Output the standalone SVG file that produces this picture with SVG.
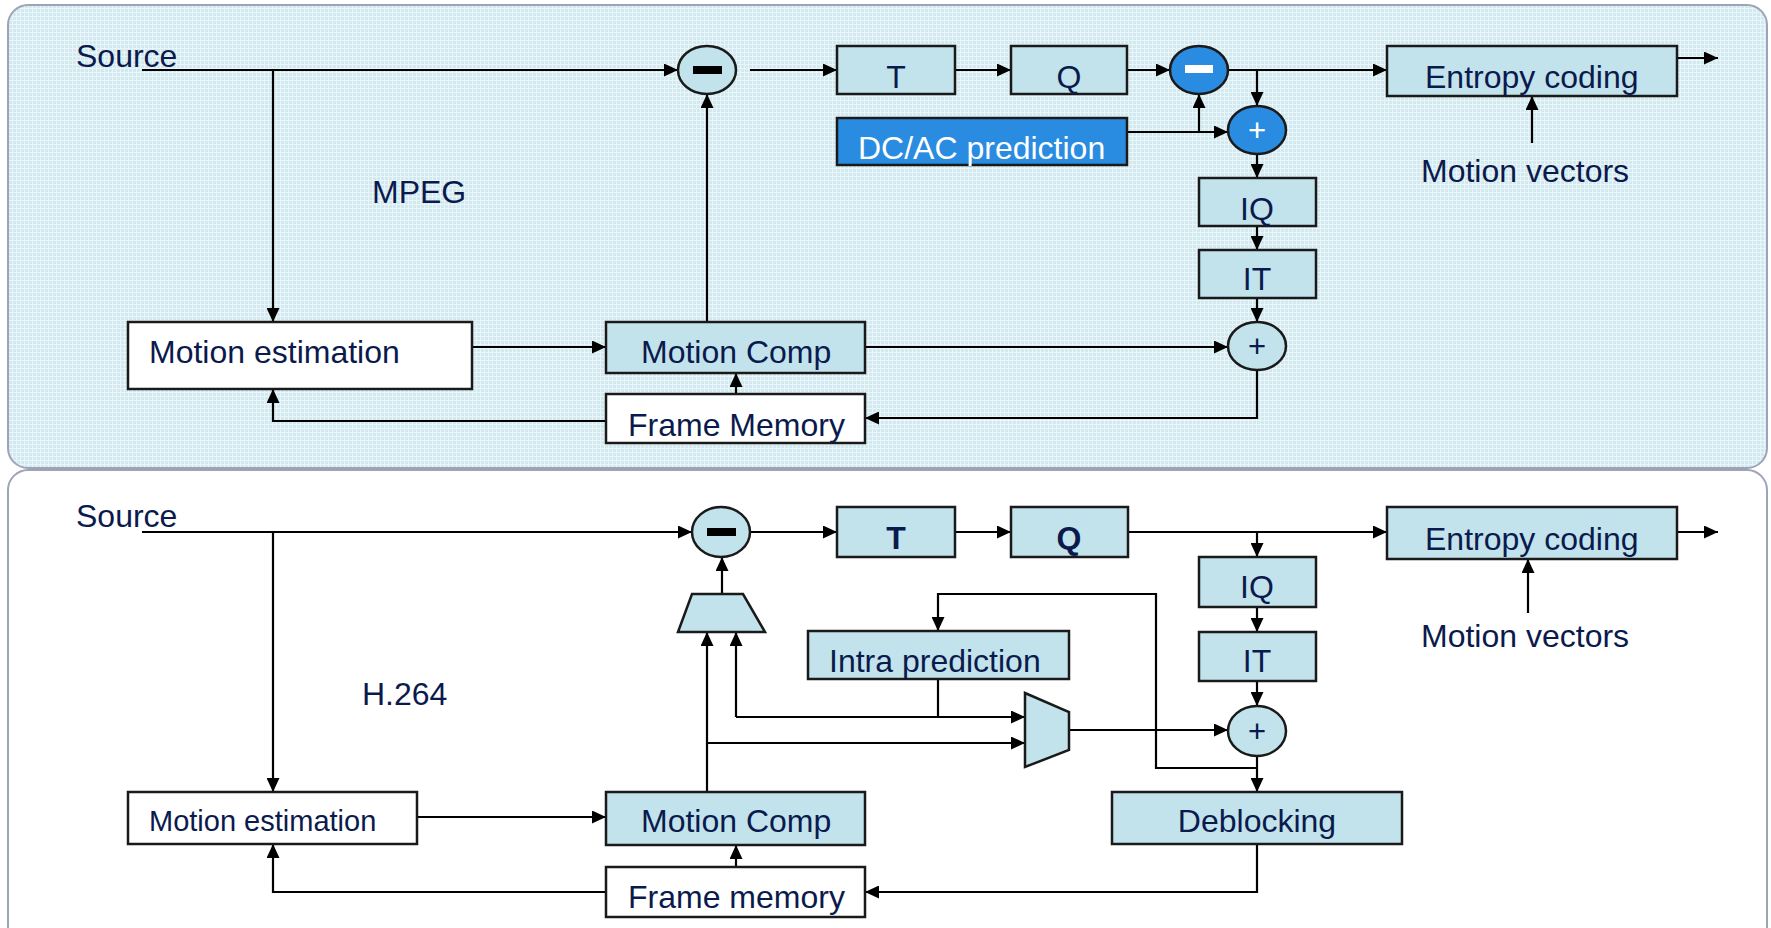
<svg xmlns="http://www.w3.org/2000/svg" width="1771" height="928" viewBox="0 0 1771 928">
<style>
text{font-family:"Liberation Sans",Arial,sans-serif;font-size:32px;fill:#0b1a4d}
.box{stroke:#1a1a1a;stroke-width:2.5}
.lb{fill:#c2e3ec}
.wh{fill:#ffffff}
.bl{fill:#2a8ce0}
.c{stroke:#000;stroke-width:2.2;fill:none;marker-end:url(#ah)}
.n{stroke:#000;stroke-width:2.2;fill:none}
.mid{text-anchor:middle}
.plus{font-size:31px;text-anchor:middle}
</style>
<defs>
<marker id="ah" markerUnits="userSpaceOnUse" markerWidth="14" markerHeight="13" refX="14" refY="6.5" orient="auto"><path d="M0,0 L14,6.5 L0,13 z" fill="#000"/></marker>
<pattern id="grid" width="4" height="4" patternUnits="userSpaceOnUse"><rect width="4" height="4" fill="#d3e9f0"/><path d="M0,0.5 H4 M0.5,0 V4" stroke="#e9f5f8" stroke-width="1"/></pattern>
</defs>
<g id="panel-mpeg"><rect x="8" y="5" width="1759" height="463" rx="20" fill="url(#grid)" stroke="#9ea4b8" stroke-width="2"/></g>
<g id="panel-h264"><rect x="8" y="470" width="1759" height="480" rx="20" fill="#ffffff" stroke="#9ea4b8" stroke-width="2"/></g>

<g id="connectors">
<path class="c" d="M142,70 H678"/>
<path class="c" d="M273,70 V322"/>
<path class="c" d="M472,347 H606"/>
<path class="c" d="M736,394 V373"/>
<path class="c" d="M606,421 H273 V389"/>
<path class="c" d="M707,322 V94"/>
<path class="c" d="M750,70 H837"/>
<path class="c" d="M955,70 H1011"/>
<path class="c" d="M1127,70 H1170"/>
<path class="c" d="M1228,70 H1387"/>
<path class="c" d="M1257,70 V106"/>
<path class="c" d="M1127,132 H1228"/>
<path class="c" d="M1199,132 V94"/>
<path class="c" d="M1257,154 V178"/>
<path class="c" d="M1257,226 V250"/>
<path class="c" d="M1257,298 V322"/>
<path class="c" d="M865,347 H1228"/>
<path class="c" d="M1257,371 V418 H865"/>
<path class="c" d="M1677,58 H1718"/>
<path class="c" d="M1532,143 V96"/>

<path class="c" d="M142,532 H692"/>
<path class="c" d="M273,532 V792"/>
<path class="c" d="M417,817 H606"/>
<path class="c" d="M736,867 V845"/>
<path class="c" d="M606,892 H273 V844"/>
<path class="c" d="M1257,844 V892 H865"/>
<path class="c" d="M722,594 V557"/>
<path class="c" d="M707,792 V632"/>
<path class="c" d="M707,743 H1025"/>
<path class="c" d="M736,717 V632"/>
<path class="c" d="M736,717 H1025"/>
<path class="n" d="M938,679 V717"/>
<path class="c" d="M1257,768 H1156 V594 H938 V631"/>
<path class="c" d="M1069,730 H1228"/>
<path class="c" d="M750,532 H837"/>
<path class="c" d="M955,532 H1011"/>
<path class="c" d="M1128,532 H1387"/>
<path class="c" d="M1257,532 V557"/>
<path class="c" d="M1257,607 V632"/>
<path class="c" d="M1257,681 V706"/>
<path class="c" d="M1257,756 V792"/>
<path class="c" d="M1677,532 H1718"/>
<path class="c" d="M1528,613 V559"/>
</g>

<g id="labels-top">
<text x="76" y="67">Source</text>
<text x="372" y="203">MPEG</text>
<text x="1421" y="182">Motion vectors</text>
</g>
<g id="m-sub"><ellipse cx="707" cy="70" rx="29" ry="24" class="box lb"/><rect x="693" y="66" width="29" height="8" fill="#000"/></g>
<g id="m-me"><rect x="128" y="322" width="344" height="67" class="box wh"/><text x="149" y="363">Motion estimation</text></g>
<g id="m-mc"><rect x="606" y="322" width="259" height="51" class="box lb"/><text x="641" y="363">Motion Comp</text></g>
<g id="m-fm"><rect x="606" y="394" width="259" height="49" class="box wh"/><text x="628" y="436">Frame Memory</text></g>
<g id="m-t"><rect x="837" y="46" width="118" height="48" class="box lb"/><text x="896" y="88" class="mid">T</text></g>
<g id="m-q"><rect x="1011" y="46" width="116" height="48" class="box lb"/><text x="1069" y="88" class="mid">Q</text></g>
<g id="m-sub2"><ellipse cx="1199" cy="70" rx="29" ry="24" class="box bl"/><rect x="1185" y="65" width="28" height="8" fill="#fff"/></g>
<g id="m-dcac"><rect x="837" y="118" width="290" height="47" class="box bl"/><text x="858" y="159" style="fill:#fff">DC/AC prediction</text></g>
<g id="m-add1"><ellipse cx="1257" cy="130" rx="29" ry="24" class="box bl"/><text x="1257" y="141" class="plus" style="fill:#fff">+</text></g>
<g id="m-iq"><rect x="1199" y="178" width="117" height="48" class="box lb"/><text x="1257" y="220" class="mid">IQ</text></g>
<g id="m-it"><rect x="1199" y="250" width="117" height="48" class="box lb"/><text x="1257" y="290" class="mid">IT</text></g>
<g id="m-add2"><ellipse cx="1257" cy="346" rx="29" ry="24" class="box lb"/><text x="1257" y="357" class="plus">+</text></g>
<g id="m-ec"><rect x="1387" y="46" width="290" height="50" class="box lb"/><text x="1425" y="88">Entropy coding</text></g>

<g id="labels-bottom">
<text x="76" y="527">Source</text>
<text x="362" y="705">H.264</text>
<text x="1421" y="647">Motion vectors</text>
</g>
<g id="h-sub"><ellipse cx="721" cy="532" rx="29" ry="25" class="box lb"/><rect x="707" y="528" width="29" height="8" fill="#000"/></g>
<g id="h-me"><rect x="128" y="792" width="289" height="52" class="box wh"/><text x="149" y="831" style="font-size:29px">Motion estimation</text></g>
<g id="h-mc"><rect x="606" y="792" width="259" height="53" class="box lb"/><text x="641" y="832">Motion Comp</text></g>
<g id="h-fm"><rect x="606" y="867" width="259" height="50" class="box wh"/><text x="628" y="908">Frame memory</text></g>
<g id="h-mux1"><path d="M692,594 H743 L765,632 H678 Z" class="box lb"/></g>
<g id="h-mux2"><path d="M1025,693 L1069,712 V750 L1025,767 Z" class="box lb"/></g>
<g id="h-intra"><rect x="808" y="631" width="261" height="48" class="box lb"/><text x="829" y="672">Intra prediction</text></g>
<g id="h-t"><rect x="837" y="507" width="118" height="50" class="box lb"/><text x="896" y="549" class="mid" style="font-weight:bold">T</text></g>
<g id="h-q"><rect x="1011" y="507" width="117" height="50" class="box lb"/><text x="1069" y="549" class="mid" style="font-weight:bold">Q</text></g>
<g id="h-iq"><rect x="1199" y="557" width="117" height="50" class="box lb"/><text x="1257" y="598" class="mid">IQ</text></g>
<g id="h-it"><rect x="1199" y="632" width="117" height="49" class="box lb"/><text x="1257" y="672" class="mid">IT</text></g>
<g id="h-add"><ellipse cx="1257" cy="731" rx="29" ry="25" class="box lb"/><text x="1257" y="742" class="plus">+</text></g>
<g id="h-db"><rect x="1112" y="792" width="290" height="52" class="box lb"/><text x="1257" y="832" class="mid">Deblocking</text></g>
<g id="h-ec"><rect x="1387" y="507" width="290" height="52" class="box lb"/><text x="1425" y="550">Entropy coding</text></g>
</svg>
